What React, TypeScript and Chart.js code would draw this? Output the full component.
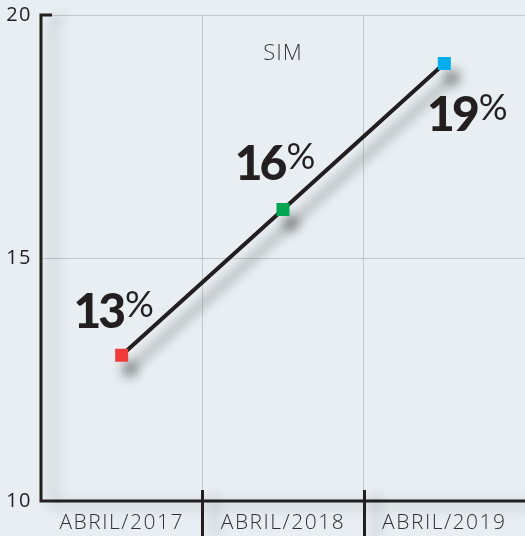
import React, { useEffect, useRef } from 'react';
import { Chart, registerables } from 'chart.js';

Chart.register(...registerables);

const categories = ['ABRIL/2017', 'ABRIL/2018', 'ABRIL/2019'];
const values = [13, 16, 19];
const pointColors = ['#ef3b39', '#00a651', '#00aeef'];
const valueLabels = ['13', '16', '19'];
const yMin = 10;
const yMax = 20;
const yStep = 5;
const titleText = 'SIM';

const INK = '#231f20';
const BG = '#e8eef1';

const decorPlugin = {
  id: 'decor',
  beforeDraw(chart: any) {
    (chart.ctx as any).letterSpacing = '1.5px';
  },
  beforeDatasetsDraw(chart: any) {
    const { ctx, chartArea, scales } = chart;
    (ctx as any).letterSpacing = '0px';
    const { left, right, top, bottom } = chartArea;
    const x = scales.x;
    ctx.save();
    ctx.strokeStyle = INK;
    ctx.lineWidth = 3;
    ctx.lineCap = 'butt';
    ctx.shadowColor = 'rgba(0,0,0,0.3)';
    ctx.shadowBlur = 14;
    ctx.shadowOffsetX = 12;
    ctx.shadowOffsetY = 4;
    ctx.beginPath();
    ctx.moveTo(left + 11, top);
    ctx.lineTo(left, top);
    ctx.lineTo(left, bottom);
    ctx.lineTo(right, bottom);
    ctx.stroke();
    for (let i = 0; i < categories.length - 1; i++) {
      const bx = Math.round((x.getPixelForValue(i) + x.getPixelForValue(i + 1)) / 2) + 0.5;
      ctx.beginPath();
      ctx.moveTo(bx, bottom - 11);
      ctx.lineTo(bx, chart.height);
      ctx.stroke();
    }
    ctx.restore();

    ctx.save();
    ctx.fillStyle = '#3a3a3a';
    (ctx as any).letterSpacing = '1px';
    ctx.font = '300 22px "Open Sans", sans-serif';
    ctx.textAlign = 'center';
    ctx.textBaseline = 'alphabetic';
    ctx.fillText(titleText, (left + right) / 2, top + 45);
    (ctx as any).letterSpacing = '0px';
    ctx.restore();
  },
  beforeDatasetDraw(chart: any) {
    const ctx = chart.ctx;
    ctx.save();
    ctx.shadowColor = 'rgba(0,0,0,0.45)';
    ctx.shadowBlur = 12;
    ctx.shadowOffsetX = 8;
    ctx.shadowOffsetY = 14;
  },
  afterDatasetDraw(chart: any) {
    chart.ctx.restore();
  },
  afterDatasetsDraw(chart: any) {
    const { ctx } = chart;
    const meta = chart.getDatasetMeta(0);
    const offsets = [[-8, -27], [-8, -29], [23, 67]];
    ctx.save();
    meta.data.forEach((pt: any, i: number) => {
      const numFont = '900 48px Lato, sans-serif';
      const pctFont = '400 36px Lato, sans-serif';
      (ctx as any).letterSpacing = '-3px';
      ctx.font = numFont;
      const nw = ctx.measureText(valueLabels[i]).width;
      (ctx as any).letterSpacing = '0px';
      ctx.font = pctFont;
      const pw = ctx.measureText('%').width;
      const total = nw + 2 + pw;
      const cx = pt.x + offsets[i][0];
      const base = pt.y + offsets[i][1];
      const startX = cx - total / 2;
      ctx.fillStyle = INK;
      ctx.textAlign = 'left';
      ctx.textBaseline = 'alphabetic';
      (ctx as any).letterSpacing = '-3px';
      ctx.font = numFont;
      ctx.fillText(valueLabels[i], startX, base);
      (ctx as any).letterSpacing = '0px';
      ctx.font = pctFont;
      ctx.fillText('%', startX + nw + 2, base - 11);
    });
    ctx.restore();
  },
};

export default function App() {
  const ref = useRef<HTMLCanvasElement>(null);
  useEffect(() => {
    if (!ref.current) return;
    const chart = new Chart(ref.current, {
      type: 'line',
      data: {
        labels: categories,
        datasets: [
          {
            data: values,
            borderColor: INK,
            borderWidth: 4,
            pointStyle: 'rect',
            pointRadius: 9.2,
            pointHoverRadius: 9.2,
            pointBackgroundColor: pointColors,
            pointBorderWidth: 0,
            pointBorderColor: pointColors,
            tension: 0,
          },
        ],
      },
      options: {
        animation: false,
        responsive: false,
        layout: { padding: 0, autoPadding: false },
        plugins: { legend: { display: false }, tooltip: { enabled: false } },
        scales: {
          x: {
            type: 'category',
            offset: true,
            grid: { offset: true, color: '#c3c8cb', lineWidth: 1, drawTicks: false },
            border: { display: false },
            ticks: {
              color: '#333333',
              padding: 9,
              font: { family: '"Open Sans", sans-serif', size: 21, weight: '300' as any },
              maxRotation: 0,
            },
            afterFit: (s: any) => {
              s.height = 35;
              s.paddingLeft = 0;
              s.paddingRight = 0;
            },
          },
          y: {
            min: yMin,
            max: yMax,
            grid: { color: '#c3c8cb', lineWidth: 1, drawTicks: false },
            border: { display: false },
            ticks: {
              stepSize: yStep,
              color: INK,
              padding: 9,
              font: { family: '"Open Sans", sans-serif', size: 20, weight: '400' as any },
            },
            afterFit: (s: any) => {
              s.width = 41;
              s.paddingTop = 15;
              s.paddingBottom = 0;
            },
          },
        },
      },
      plugins: [decorPlugin],
    });
    return () => chart.destroy();
  }, []);
  return (
    <div style={{ position: 'fixed', left: 0, top: 0, width: 525, height: 536, background: BG }}>
      <canvas ref={ref} width={525} height={536} style={{ display: 'block' }} />
    </div>
  );
}
